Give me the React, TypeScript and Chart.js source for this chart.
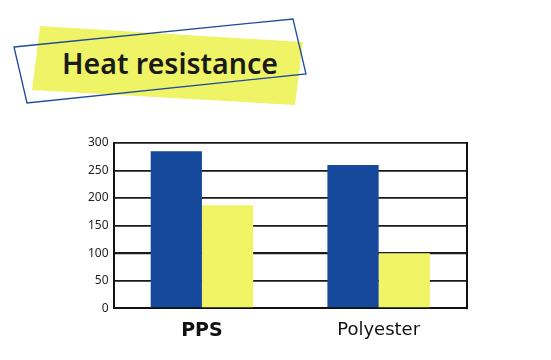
import React, { useEffect, useRef } from "react";
import { Chart, registerables } from "chart.js";

Chart.register(...registerables);

const categories = ["PPS", "Polyester"];
const meltingPoint = [285, 260];
const heatDeflection = [187, 100];
const yTicks = [0, 50, 100, 150, 200, 250, 300];
const titleText = "Heat resistance";

const BLUE = "#16499b";
const YELLOW = "#f1f565";

export default function App() {
  const canvasRef = useRef<HTMLCanvasElement | null>(null);

  useEffect(() => {
    const canvas = canvasRef.current;
    if (!canvas) return;

    const rightBorder = {
      id: "rightBorder",
      afterDatasetsDraw(chart: any) {
        const { ctx, chartArea } = chart;
        ctx.save();
        ctx.strokeStyle = "#111";
        ctx.lineWidth = 2;
        ctx.beginPath();
        ctx.moveTo(chartArea.right, chartArea.top - 1);
        ctx.lineTo(chartArea.right, chartArea.bottom + 1);
        ctx.stroke();
        ctx.restore();
      },
    };

    const chart = new Chart(canvas, {
      type: "bar",
      data: {
        labels: categories,
        datasets: [
          {
            label: "Melting point (°C)",
            data: meltingPoint,
            backgroundColor: BLUE,
            borderWidth: 0,
            categoryPercentage: 0.58,
            barPercentage: 1.0,
          },
          {
            label: "Heat deflection temperature (°C)",
            data: heatDeflection,
            backgroundColor: YELLOW,
            borderWidth: 0,
            categoryPercentage: 0.58,
            barPercentage: 1.0,
          },
        ],
      },
      options: {
        animation: false,
        responsive: false,
        maintainAspectRatio: false,
        layout: { padding: { left: 83, top: 143, right: 84, bottom: 7 } },
        plugins: {
          legend: { display: false },
          tooltip: { enabled: false },
          title: { display: false },
        },
        scales: {
          x: {
            grid: { display: false, drawTicks: false },
            border: { display: true, color: "#111", width: 2 },
            ticks: {
              padding: 11,
              color: "#111",
              font: (c: any) =>
                c.index === 0
                  ? { family: "'DejaVu Sans', sans-serif", size: 19, weight: "bold" }
                  : { family: "'DejaVu Sans', sans-serif", size: 18, weight: "normal" },
            },
          },
          y: {
            min: 0,
            max: 300,
            afterBuildTicks: (axis: any) => {
              axis.ticks = yTicks.map((v) => ({ value: v }));
            },
            grid: {
              color: "#1a1a1a",
              lineWidth: (c: any) => (c.tick && c.tick.value === 100 ? 2.2 : 1.7),
              drawTicks: false,
            },
            border: { display: true, color: "#111", width: 2 },
            ticks: {
              padding: 5,
              color: "#222",
              font: { family: "'Noto Sans', sans-serif", size: 12 },
            },
          },
        },
      },
      plugins: [rightBorder],
    });

    return () => chart.destroy();
  }, []);

  return (
    <div
      style={{
        position: "fixed",
        left: 0,
        top: 0,
        width: 551,
        height: 360,
        background: "#fff",
        overflow: "hidden",
      }}
    >
      <svg
        width={551}
        height={130}
        style={{ position: "absolute", left: 0, top: 0 }}
      >
        <polygon points="40,26 303,42 295,105 32,90" fill="#eff467" />
        <polygon
          points="14,47 293,19 306,74 27,103"
          fill="none"
          stroke="#1d4a9a"
          strokeWidth={1.3}
        />
        <text
          x={62}
          y={74}
          fontFamily="'Noto Sans', sans-serif"
          fontWeight={600}
          fontSize={28.5}
          fill="#1a1a1a"
        >
          {titleText}
        </text>
      </svg>
      <canvas
        ref={canvasRef}
        width={551}
        height={360}
        style={{ position: "absolute", left: 0, top: 0 }}
      />
    </div>
  );
}
